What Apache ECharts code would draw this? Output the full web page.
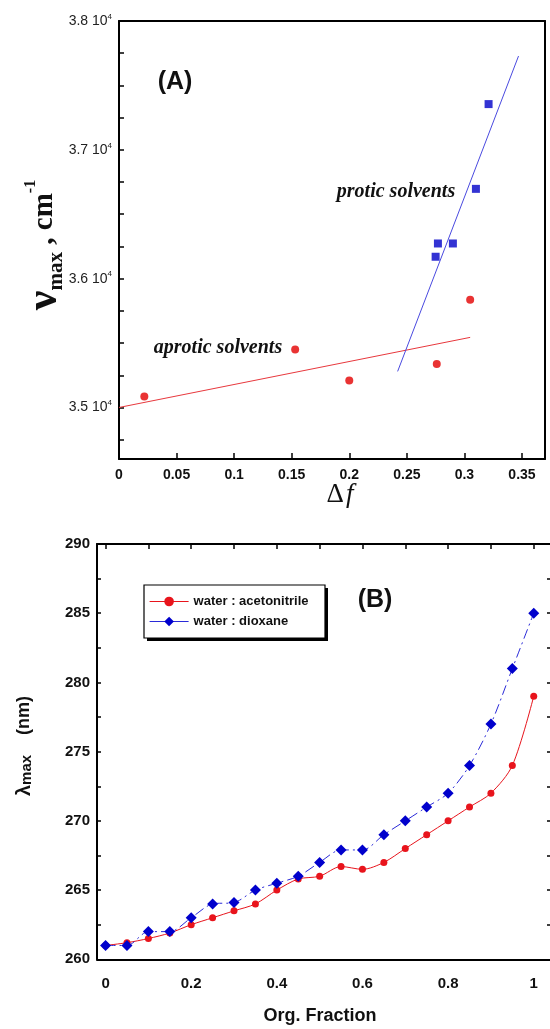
<!DOCTYPE html>
<html>
<head>
<meta charset="utf-8">
<script src="https://cdn.jsdelivr.net/npm/echarts@6/dist/echarts.min.js"></script>
<style>
  html, body { margin: 0; padding: 0; background: #fff; }
  #chart { width: 550px; height: 1029px; }
</style>
</head>
<body>
<div id="chart"></div>
<script>
// Panel (A): absorption maximum (wavenumber) against orientation polarizability
const aproticDf = [0.022, 0.153, 0.200, 0.276, 0.305];
const aproticNu = [35085, 35450, 35210, 35337, 35837];
const proticDf = [0.275, 0.277, 0.290, 0.310, 0.321];
const proticNu = [36170, 36273, 36273, 36697, 37355];
// Linear fits drawn over each solvent group (end points)
const aproticFitDf = [0, 0.305];
const aproticFitNu = [35000, 35544];
const proticFitDf = [0.242, 0.347];
const proticFitNu = [35280, 37728];
// Axis ticks of panel (A)
const dfTicks = [0, 0.05, 0.1, 0.15, 0.2, 0.25, 0.3, 0.35];
const nuTicks = [34750, 35000, 35250, 35500, 35750, 36000, 36250, 36500, 36750, 37000, 37250, 37500, 37750, 38000];
const nuLabels = [35000, 36000, 37000, 38000];

// Panel (B): absorption maximum (nm) against organic fraction of binary mixtures
const orgFraction = [0, 0.05, 0.1, 0.15, 0.2, 0.25, 0.3, 0.35, 0.4, 0.45, 0.5, 0.55, 0.6, 0.65, 0.7, 0.75, 0.8, 0.85, 0.9, 0.95, 1];
const acetonitrile = [261, 261.2, 261.5, 261.9, 262.5, 263, 263.5, 264, 265, 265.8, 266, 266.7, 266.5, 267, 268, 269, 270, 271, 272, 274, 279];
const dioxane = [261, 261, 262, 262, 263, 264, 264.1, 265, 265.5, 266, 267, 267.9, 267.9, 269, 270, 271, 272, 274, 277, 281, 285];
// Axis ticks of panel (B)
const fracTicks = [0, 0.1, 0.2, 0.3, 0.4, 0.5, 0.6, 0.7, 0.8, 0.9, 1];
const fracLabels = [0, 0.2, 0.4, 0.6, 0.8, 1];
const lambdaTicks = [260, 262.5, 265, 267.5, 270, 272.5, 275, 277.5, 280, 282.5, 285, 287.5, 290];
const lambdaLabels = [260, 265, 270, 275, 280, 285, 290];

const SANS = '"Liberation Sans", Arial, sans-serif';
const SERIF = '"Liberation Serif", "Times New Roman", serif';

const zip = (xs, ys) => xs.map((x, i) => [x, ys[i]]);

const frameLine = { show: true, onZero: false, lineStyle: { color: '#000', width: 2 } };

const chart = echarts.init(document.getElementById('chart'), null, { renderer: 'canvas' });

chart.setOption({
  animation: false,
  backgroundColor: '#fff',
  grid: [
    { left: 119, top: 21, width: 426, height: 438, outerBoundsMode: 'none', containLabel: false },
    { left: 97, top: 544, width: 456, height: 415.3, outerBoundsMode: 'none', containLabel: false }
  ],
  xAxis: [
    {
      gridIndex: 0, type: 'value', position: 'bottom', min: 0, max: 0.37,
      axisLine: frameLine,
      axisTick: { show: true, inside: true, length: 6, customValues: dfTicks, lineStyle: { color: '#000', width: 1.5 } },
      axisLabel: { customValues: dfTicks, formatter: v => String(v), margin: 9,
        fontFamily: SANS, fontWeight: 'bold', fontSize: 14, color: '#111' },
      splitLine: { show: false }
    },
    {
      gridIndex: 0, type: 'value', position: 'top', min: 0, max: 0.37,
      axisLine: frameLine, axisTick: { show: false }, axisLabel: { show: false }, splitLine: { show: false }
    },
    {
      gridIndex: 1, type: 'value', position: 'bottom', min: -0.02, max: 1.045,
      axisLine: frameLine,
      axisTick: { show: false },
      axisLabel: { customValues: fracLabels, formatter: v => String(v), margin: 17,
        fontFamily: SANS, fontWeight: 'bold', fontSize: 15, color: '#111' },
      splitLine: { show: false }
    },
    {
      gridIndex: 1, type: 'value', position: 'top', min: -0.02, max: 1.045,
      axisLine: frameLine,
      axisTick: { show: true, inside: true, length: 5, customValues: fracTicks, lineStyle: { color: '#000', width: 1.5 } },
      axisLabel: { show: false }, splitLine: { show: false }
    }
  ],
  yAxis: [
    {
      gridIndex: 0, type: 'value', position: 'left', min: 34600, max: 38000,
      axisLine: frameLine,
      axisTick: { show: true, inside: true, length: 5, customValues: nuTicks, lineStyle: { color: '#000', width: 1.5 } },
      axisLabel: {
        customValues: nuLabels, margin: 7,
        formatter: v => '{b|' + (v / 10000).toFixed(1) + ' 10}{sup|4}',
        rich: {
          b: { fontFamily: SANS, fontSize: 14, color: '#222', lineHeight: 17 },
          sup: { fontFamily: SANS, fontSize: 8, color: '#222', verticalAlign: 'top', lineHeight: 17 }
        }
      },
      splitLine: { show: false }
    },
    {
      gridIndex: 0, type: 'value', position: 'right', min: 34600, max: 38000,
      axisLine: frameLine, axisTick: { show: false }, axisLabel: { show: false }, splitLine: { show: false }
    },
    {
      gridIndex: 1, type: 'value', position: 'left', min: 260, max: 290,
      axisLine: frameLine,
      axisTick: { show: true, inside: true, length: 4, customValues: lambdaTicks, lineStyle: { color: '#000', width: 1.5 } },
      axisLabel: { customValues: lambdaLabels, margin: 7,
        fontFamily: SANS, fontWeight: 'bold', fontSize: 15, color: '#111' },
      splitLine: { show: false }
    },
    {
      gridIndex: 1, type: 'value', position: 'right', min: 260, max: 290,
      axisLine: frameLine,
      axisTick: { show: true, inside: true, length: 6, customValues: lambdaTicks, lineStyle: { color: '#000', width: 1.5 } },
      axisLabel: { show: false }, splitLine: { show: false }
    }
  ],
  legend: {
    data: ['water : acetonitrile', 'water : dioxane'],
    orient: 'vertical',
    left: 144, top: 585,
    padding: [10, 12, 9, 5],
    itemWidth: 39, itemHeight: 12, itemGap: 7,
    z: 6,
    lineStyle: { type: 'solid', width: 1.2 },
    textStyle: { fontFamily: SANS, fontWeight: 'bold', fontSize: 13, color: '#111' }
  },
  series: [
    {
      type: 'line', xAxisIndex: 0, yAxisIndex: 0,
      data: zip(aproticFitDf, aproticFitNu), showSymbol: false, symbol: 'none',
      lineStyle: { color: '#e8383d', width: 1 }, z: 2
    },
    {
      type: 'line', xAxisIndex: 0, yAxisIndex: 0,
      data: zip(proticFitDf, proticFitNu), showSymbol: false, symbol: 'none',
      lineStyle: { color: '#4a4ae0', width: 1 }, z: 2
    },
    {
      type: 'scatter', xAxisIndex: 0, yAxisIndex: 0,
      data: zip(aproticDf, aproticNu), symbol: 'circle', symbolSize: 8,
      itemStyle: { color: '#e30000' }, z: 3
    },
    {
      type: 'scatter', xAxisIndex: 0, yAxisIndex: 0,
      data: zip(proticDf, proticNu), symbol: 'rect', symbolSize: 8,
      itemStyle: { color: '#0000c8' }, z: 3
    },
    {
      name: 'water : acetonitrile',
      type: 'line', xAxisIndex: 2, yAxisIndex: 2,
      data: zip(orgFraction, acetonitrile), smooth: 0.3,
      symbol: 'circle', symbolSize: 7, showAllSymbol: true,
      itemStyle: { color: '#e8141c' },
      lineStyle: { color: '#e8141c', width: 1 }
    },
    {
      name: 'water : dioxane',
      type: 'line', xAxisIndex: 2, yAxisIndex: 2,
      data: zip(orgFraction, dioxane), smooth: 0.3,
      symbol: 'diamond', symbolSize: 11, showAllSymbol: true,
      itemStyle: { color: '#0000cc' },
      lineStyle: { color: '#2a2ad8', width: 1, type: [10, 4, 2, 4] }
    }
  ],
  graphic: [
    // legend frame with a hard drop shadow
    { type: 'rect', z: 5, shape: { x: 147, y: 588, width: 181, height: 53 }, style: { fill: '#000' } },
    { type: 'rect', z: 5, shape: { x: 144, y: 585, width: 181, height: 53 }, style: { fill: '#fff', stroke: '#000', lineWidth: 1.2 } },
    { type: 'text', x: 175, y: 82, style: { text: '(A)', font: 'bold 25px ' + SANS, fill: '#111', align: 'center', verticalAlign: 'middle' } },
    { type: 'text', x: 396, y: 192, style: { text: 'protic solvents', font: 'italic bold 20px ' + SERIF, fill: '#111', align: 'center', verticalAlign: 'middle' } },
    { type: 'text', x: 218, y: 348, style: { text: 'aprotic solvents', font: 'italic bold 20px ' + SERIF, fill: '#111', align: 'center', verticalAlign: 'middle' } },
    {
      type: 'text', x: 340, y: 495,
      style: {
        text: '{d|Δ}{f|f}', align: 'center', verticalAlign: 'middle',
        rich: {
          d: { font: '27px ' + SERIF, fill: '#111' },
          f: { font: 'italic 27px ' + SERIF, fill: '#111', padding: [0, 0, 0, 2] }
        }
      }
    },
    {
      type: 'text', x: 45, y: 245, rotation: Math.PI / 2,
      style: {
        text: '{n|ν}{s|max}{t| , cm}{p|-1}', align: 'center', verticalAlign: 'middle',
        rich: {
          n: { font: 'bold 44px ' + SERIF, fill: '#111' },
          s: { font: 'bold 21px ' + SERIF, fill: '#111', verticalAlign: 'bottom' },
          t: { font: 'bold 29px ' + SERIF, fill: '#111' },
          p: { font: 'bold 16px ' + SERIF, fill: '#111', verticalAlign: 'top' }
        }
      }
    },
    { type: 'text', x: 375, y: 600, style: { text: '(B)', font: 'bold 25px ' + SANS, fill: '#111', align: 'center', verticalAlign: 'middle' } },
    { type: 'text', x: 320, y: 1016, style: { text: 'Org. Fraction', font: 'bold 18px ' + SANS, fill: '#111', align: 'center', verticalAlign: 'middle' } },
    {
      type: 'text', x: 24, y: 746, rotation: Math.PI / 2,
      style: {
        text: '{l|λ}{s|max}{t|(nm)}', align: 'center', verticalAlign: 'middle',
        rich: {
          l: { font: 'bold 20px ' + SANS, fill: '#111' },
          s: { font: 'bold 15px ' + SANS, fill: '#111', verticalAlign: 'bottom' },
          t: { font: 'bold 18px ' + SANS, fill: '#111', padding: [0, 0, 0, 20] }
        }
      }
    }
  ]
});
</script>
</body>
</html>
